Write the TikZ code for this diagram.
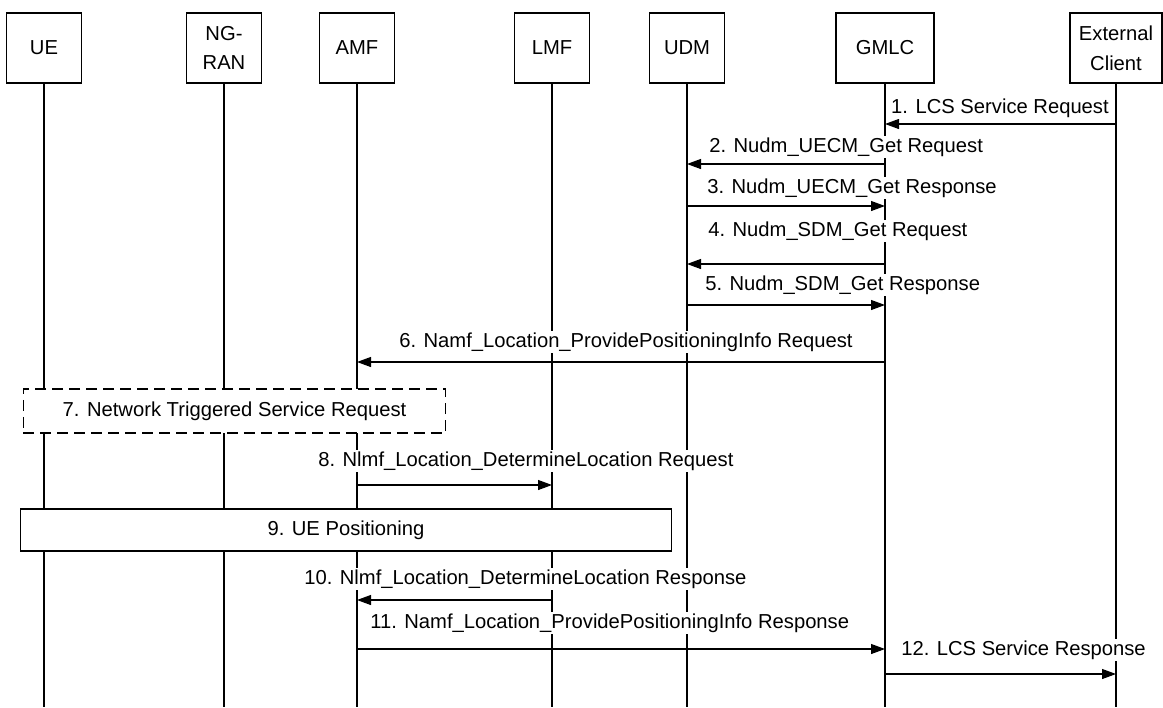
\documentclass[tikz,border=0pt]{standalone}
\usepackage{fontspec}
\setmainfont{Liberation Sans}
\usepackage{tikz}
\usetikzlibrary{arrows.meta,positioning}

\begin{document}
\begin{tikzpicture}[
    x=0.02cm,
    y=-0.02cm,
    font=\fontsize{11.5}{14}\selectfont,
    line width=0.6pt,
    entity/.style={rectangle, draw, fill=white, minimum width=1.5cm, minimum height=1.4cm, align=center, inner sep=1pt},
    msg/.style={-{Triangle[length=0.28cm, width=0.2cm]}},
    msglabel/.style={fill=white, inner sep=1pt},
    procbox/.style={rectangle, draw, fill=white, inner sep=0pt}
  ]
    \useasboundingbox (0,0) rectangle (1163,707);

    % network functions
    \node[entity] (ue) at (44,48) {UE};
    \node[entity] (ngran) at (224,48) {NG-\\[3pt]RAN};
    \node[entity] (amf) at (357,48) {AMF};
    \node[entity] (lmf) at (552,48) {LMF};
    \node[entity] (udm) at (687,48) {UDM};
    \node[entity, minimum width=1.96cm] (gmlc) at (885,48) {GMLC};
    \node[entity, minimum width=1.84cm] (ext) at (1116,48) {External\\[3pt]Client};

    \coordinate (bot) at (0,707);
    \foreach \nf in {ue,ngran,amf,lmf,udm,gmlc,ext}
      \draw (\nf.south) -- (\nf |- bot);

    % messages
    \coordinate (r1) at (0,124);
    \draw[msg] (ext |- r1) -- (gmlc |- r1);
    \node[msglabel, anchor=east] (l1) at (1111,108) {1. LCS Service Request};

    \coordinate (r2) at (0,164);
    \draw[msg] (gmlc |- r2) -- (udm |- r2);
    \node[msglabel, anchor=west] (l2) at (707,147) {2. Nudm\_UECM\_Get Request};

    \coordinate (r3) at (0,206);
    \draw[msg] (udm |- r3) -- (gmlc |- r3);
    \node[msglabel, anchor=west] (l3) at (705,188) {3. Nudm\_UECM\_Get Response};

    \coordinate (r4) at (0,264);
    \draw[msg] (gmlc |- r4) -- (udm |- r4);
    \node[msglabel, anchor=west] (l4) at (706,231) {4. Nudm\_SDM\_Get Request};

    \coordinate (r5) at (0,305);
    \draw[msg] (udm |- r5) -- (gmlc |- r5);
    \node[msglabel, anchor=west] (l5) at (703,285) {5. Nudm\_SDM\_Get Response};

    \coordinate (r6) at (0,362);
    \draw[msg] (gmlc |- r6) -- (amf |- r6);
    \node[msglabel, anchor=west] (l6) at (397,342) {6. Namf\_Location\_ProvidePositioningInfo Request};

    \node[procbox, dash pattern=on 0.22cm off 0.12cm, minimum width=8.46cm, minimum height=0.88cm] (ntsr) at (234.5,411) {7. Network Triggered Service Request};

    \coordinate (r8) at (0,485);
    \draw[msg] (amf |- r8) -- (lmf |- r8);
    \node[msglabel, anchor=west] (l8) at (316,461) {8. Nlmf\_Location\_DetermineLocation Request};

    \node[procbox, minimum width=13.04cm, minimum height=0.84cm] (uepos) at (346,530) {9. UE Positioning};

    \coordinate (r10) at (0,600);
    \draw[msg] (lmf |- r10) -- (amf |- r10);
    \node[msglabel, anchor=west] (l10) at (302,579) {10. Nlmf\_Location\_DetermineLocation Response};

    \coordinate (r11) at (0,649);
    \draw[msg] (amf |- r11) -- (gmlc |- r11);
    \node[msglabel, anchor=west] (l11) at (368,623) {11. Namf\_Location\_ProvidePositioningInfo Response};

    \coordinate (r12) at (0,674);
    \draw[msg] (gmlc |- r12) -- (ext |- r12);
    \node[msglabel, anchor=west] (l12) at (899,650) {12. LCS Service Response};
  \end{tikzpicture}
\end{document}
